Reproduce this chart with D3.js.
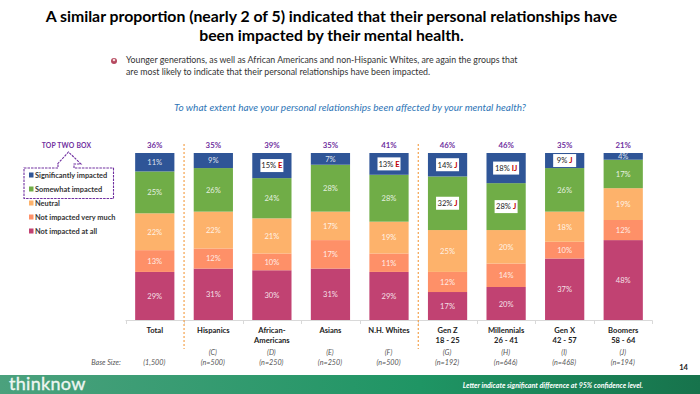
<!DOCTYPE html>
<html>
<head>
<meta charset="utf-8">
<script src="https://cdn.jsdelivr.net/npm/d3@7"></script>
<style>
  html, body { margin: 0; padding: 0; background: #fff; }
  svg { display: block; font-family: Lato, "Open Sans", sans-serif; }
</style>
</head>
<body>
<svg id="chart" width="700" height="394"></svg>
<script>
const categories = ['Total', 'Hispanics', 'African-|Americans', 'Asians', 'N.H. Whites', 'Gen Z|18 - 25', 'Millennials|26 - 41', 'Gen X|42 - 57', 'Boomers|58 - 64'];
const columnLetters = ['', '(C)', '(D)', '(E)', '(F)', '(G)', '(H)', '(I)', '(J)'];
const baseSizes = ['(1,500)', '(n=500)', '(n=250)', '(n=250)', '(n=500)', '(n=192)', '(n=646)', '(n=468)', '(n=194)'];
const topTwo = [36, 35, 39, 35, 41, 46, 46, 35, 21];

// stacked bottom to top
const notAtAll = [29, 31, 30, 31, 29, 17, 20, 37, 48];
const notVeryMuch = [13, 12, 10, 17, 11, 12, 14, 10, 12];
const neutral = [22, 22, 21, 17, 19, 25, 20, 18, 19];
const somewhat = [25, 26, 24, 28, 28, 32, 28, 26, 17];
const significantly = [11, 9, 15, 7, 13, 14, 18, 9, 4];

// significance letters, '' = plain white label
const somewhatSig = ['', '', '', '', '', 'J', 'J', '', ''];
const significantlySig = ['', '', 'E', '', 'E', 'J', 'IJ', 'J', ''];

const seriesNames = ['Not impacted at all', 'Not impacted very much', 'Neutral', 'Somewhat impacted', 'Significantly impacted'];
const seriesValues = [notAtAll, notVeryMuch, neutral, somewhat, significantly];
const seriesSig = [null, null, null, somewhatSig, significantlySig];
const seriesColors = ['#c14272', '#fe9068', '#fdb26b', '#70ad47', '#2f5597'];
const legendNames = ['Significantly impacted', 'Somewhat impacted', 'Neutral', 'Not impacted very much', 'Not impacted at all'];

const svg = d3.select('#chart');

const x = d3.scaleBand().domain(d3.range(categories.length)).range([125.5, 652.5]).paddingInner(0.33).paddingOuter(0.165);
const y = d3.scaleLinear().domain([0, 100]).range([320.5, 153]);
const color = d3.scaleOrdinal().domain(seriesNames).range(seriesColors);

/* ---------- Heading ---------- */
const title = svg.append('g').attr('text-anchor', 'middle')
  .attr('font-size', 15.8).attr('font-weight', 700).attr('fill', '#000');
title.append('text').attr('x', 331.5).attr('y', 22).text('A similar proportion (nearly 2 of 5) indicated that their personal relationships have');
title.append('text').attr('x', 331.5).attr('y', 41).text('been impacted by their mental health.');

const note = svg.append('g').attr('font-size', 8.8).attr('fill', '#333');
note.append('text').attr('x', 126).attr('y', 63).text('Younger generations, as well as African Americans and non-Hispanic Whites, are again the groups that');
note.append('text').attr('x', 126).attr('y', 75).text('are most likely to indicate that their personal relationships have been impacted.');
svg.append('circle').attr('cx', 114).attr('cy', 61).attr('r', 3).attr('fill', '#b5485f');
svg.append('circle').attr('cx', 114).attr('cy', 60).attr('r', 1.3).attr('fill', '#f3d9d9');

svg.append('text').attr('x', 350).attr('y', 110.5).attr('text-anchor', 'middle')
  .attr('font-size', 10).attr('font-style', 'italic').attr('fill', '#2e75b6')
  .text('To what extent have your personal relationships been affected by your mental health?');

/* ---------- Stacked bars ---------- */
const rows = categories.map((c, i) => {
  const row = { i };
  seriesNames.forEach((s, k) => { row[s] = seriesValues[k][i]; });
  return row;
});
const stacked = d3.stack().keys(seriesNames)(rows);

const groups = svg.append('g').selectAll('g').data(stacked).join('g')
  .attr('fill', d => color(d.key));
groups.selectAll('rect').data(d => d).join('rect')
  .attr('x', d => x(d.data.i))
  .attr('width', x.bandwidth())
  .attr('y', d => y(d[1]))
  .attr('height', d => y(d[0]) - y(d[1]));

// value labels
stacked.forEach((layer, k) => {
  layer.forEach(d => {
    const i = d.data.i;
    const cx = x(i) + x.bandwidth() / 2;
    const cy = (y(d[0]) + y(d[1])) / 2;
    const value = d[1] - d[0];
    const sig = seriesSig[k] ? seriesSig[k][i] : '';
    if (sig) {
      const w = sig.length > 1 ? 26 : 23;
      svg.append('rect').attr('x', cx - w / 2).attr('y', cy - 6.5).attr('width', w).attr('height', 13)
        .attr('fill', '#fff');
      const t = svg.append('text').attr('x', cx).attr('y', cy + 2.8).attr('text-anchor', 'middle')
        .attr('font-size', 7.6).attr('fill', '#222');
      t.append('tspan').text(value + '% ');
      t.append('tspan').attr('fill', '#c00000').attr('font-weight', 700).text(sig);
    } else {
      svg.append('text').attr('x', cx).attr('y', cy + 2.8).attr('text-anchor', 'middle')
        .attr('font-size', 7.6).attr('fill', '#fff').attr('fill-opacity', 0.85).text(value + '%');
    }
  });
});

// top two box totals
svg.append('g').selectAll('text').data(topTwo).join('text')
  .attr('x', (d, i) => x(i) + x.bandwidth() / 2)
  .attr('y', 148)
  .attr('text-anchor', 'middle')
  .attr('font-size', 7.8).attr('font-weight', 700).attr('fill', '#7030a0')
  .text(d => d + '%');

/* ---------- Axis and column captions ---------- */
const base = svg.append('g').attr('stroke', '#d9d9d9');
base.append('line').attr('x1', x.range()[0]).attr('x2', x.range()[1]).attr('y1', 320.5).attr('y2', 320.5);
categories.forEach((c, i) => {
  const tx = Math.round(x(i) - x.step() * 0.165) + 0.5;
  base.append('line').attr('x1', tx).attr('x2', tx).attr('y1', 320.5).attr('y2', 324);
});
base.append('line').attr('x1', 652.5).attr('x2', 652.5).attr('y1', 320.5).attr('y2', 324);

const labels = svg.append('g').selectAll('g').data(categories).join('g')
  .attr('transform', (d, i) => `translate(${x(i) + x.bandwidth() / 2},0)`)
  .attr('text-anchor', 'middle');
labels.selectAll('text').data(d => d.split('|')).join('text')
  .attr('y', (d, i) => 333 + i * 9.7)
  .attr('font-size', 7.6).attr('font-weight', 700).attr('fill', '#222')
  .text(d => d);

const italics = svg.append('g').attr('font-size', 7.2).attr('font-style', 'italic').attr('fill', '#555').attr('text-anchor', 'middle');
columnLetters.forEach((t, i) => {
  italics.append('text').attr('x', x(i) + x.bandwidth() / 2 - 0.5).attr('y', 354.5).text(t);
});
baseSizes.forEach((t, i) => {
  italics.append('text').attr('x', x(i) + x.bandwidth() / 2 - 0.5).attr('y', 365).text(t);
});
italics.append('text').attr('x', 106).attr('y', 365).text('Base Size:');

// dotted group separators
[x(1) - (x.step() - x.bandwidth()) / 2, x(5) - (x.step() - x.bandwidth()) / 2].forEach(sx => {
  svg.append('line').attr('x1', sx).attr('x2', sx).attr('y1', 144).attr('y2', 349)
    .attr('stroke', '#f4a24d').attr('stroke-width', 1.2).attr('stroke-dasharray', '2 2');
});

/* ---------- Legend ---------- */
const legend = svg.append('g').selectAll('g').data(legendNames).join('g')
  .attr('transform', (d, i) => `translate(29,${175 + i * 14})`);
legend.append('rect').attr('y', -2.5).attr('width', 4.5).attr('height', 5)
  .attr('fill', d => color(d));
legend.append('text').attr('x', 6).attr('y', 2.6).attr('font-size', 7.4).attr('font-weight', 700).attr('fill', '#333')
  .text(d => d);

svg.append('text').attr('x', 66.5).attr('y', 148).attr('text-anchor', 'middle')
  .attr('font-size', 6.8).attr('font-weight', 700).attr('fill', '#7030a0').attr('letter-spacing', 0.2)
  .text('TOP TWO BOX');
const callout = d3.path();
callout.moveTo(24, 168);
callout.lineTo(58, 168);
callout.lineTo(58, 164);
callout.lineTo(57.5, 164);
callout.lineTo(68.5, 152);
callout.lineTo(81, 164);
callout.lineTo(74, 164);
callout.lineTo(74, 168);
callout.lineTo(113.5, 168);
callout.lineTo(113.5, 198.5);
callout.lineTo(24, 198.5);
callout.closePath();
svg.append('path').attr('d', callout.toString()).attr('fill', 'none')
  .attr('stroke', '#7030a0').attr('stroke-width', 1.1).attr('stroke-dasharray', '2.5 1');

/* ---------- Footer ---------- */
const grad = svg.append('defs').append('linearGradient').attr('id', 'foot');
grad.append('stop').attr('offset', '0%').attr('stop-color', '#4ba17d');
grad.append('stop').attr('offset', '60%').attr('stop-color', '#1f9564');
grad.append('stop').attr('offset', '100%').attr('stop-color', '#17734c');
svg.append('rect').attr('x', 0).attr('y', 375).attr('width', 700).attr('height', 19).attr('fill', 'url(#foot)');
svg.append('text').attr('x', 9).attr('y', 390).attr('font-size', 18)
  .attr('fill', '#eef6f1').attr('stroke', '#eef6f1').attr('stroke-width', 0.35).attr('letter-spacing', 0.3).text('thinknow');
svg.append('text').attr('x', 643).attr('y', 387.5).attr('text-anchor', 'end')
  .attr('font-size', 7.1).attr('font-weight', 700).attr('font-style', 'italic').attr('fill', '#fff')
  .text('Letter indicate significant difference at 95% confidence level.');
svg.append('text').attr('x', 688).attr('y', 369.5).attr('text-anchor', 'end')
  .attr('font-size', 7.6).attr('font-weight', 700).attr('fill', '#222').text('14');
</script>
</body>
</html>
